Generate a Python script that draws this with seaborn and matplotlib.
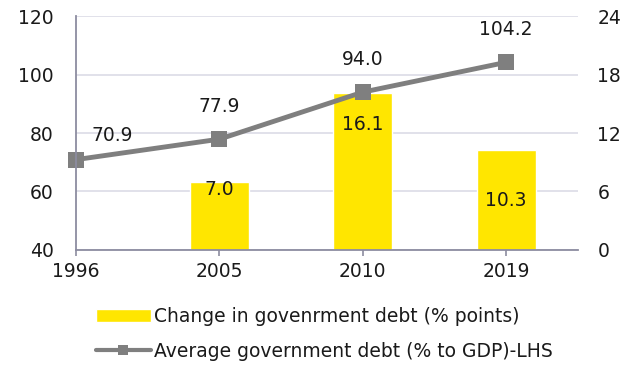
import matplotlib
matplotlib.use("Agg")
import matplotlib.pyplot as plt
import seaborn as sns
import pandas as pd
import numpy as np

# Data
years = ["1996", "2005", "2010", "2019"]
avg_debt = [70.9, 77.9, 94.0, 104.2]          # % of GDP, left axis
debt_change = [np.nan, 7.0, 16.1, 10.3]        # % points, right axis

bar_label = "Change in govenrment debt (% points)"
line_label = "Average government debt (% to GDP)-LHS"

left_ticks = [40, 60, 80, 100, 120]
right_ticks = [0, 6, 12, 18, 24]

YELLOW = "#FFE600"
GREY = "#7F7F7F"
AXIS = "#8C8CA0"
GRID = "#DCDCE6"
TEXT = "#1A1A1A"

sns.set_theme(style="white")
plt.rcParams["font.family"] = ["DejaVu Sans"]
FS = 13.5

df = pd.DataFrame({"year": years, "debt": avg_debt, "change": debt_change})
df["pos"] = np.arange(len(years))

fig = plt.figure(figsize=(6.33, 3.67), dpi=100)
ax = fig.add_axes([0.120, 0.319, 0.793, 0.637])
ax2 = ax.twinx()

# Bars on the right-hand scale
bars = df.dropna(subset=["change"])
sns.barplot(data=bars, x="pos", y="change", ax=ax2, color=YELLOW,
            native_scale=True, width=0.41, saturation=1, label=bar_label)
ax2.set_ylim(0, 24)
ax2.set_yticks(right_ticks)
ax2.yaxis.grid(True, color=GRID, linewidth=1.2)
ax2.set_axisbelow(True)

# Line on the left-hand scale
sns.lineplot(data=df, x="pos", y="debt", ax=ax, color=GREY, linewidth=3.5,
             marker="s", markersize=12, markeredgewidth=0, label=line_label,
             clip_on=False)
ax.set_ylim(40, 120)
ax.set_yticks(left_ticks)
ax.set_xlim(0, 3.5)
ax.set_xticks(df["pos"])
ax.set_xticklabels(years)
ax.set_xlabel("")
ax.set_ylabel("")
ax2.set_ylabel("")
ax2.set_xlabel("")

ax.set_zorder(ax2.get_zorder() + 1)
ax.patch.set_visible(False)

for a in (ax, ax2):
    for s in a.spines.values():
        s.set_visible(False)
    a.tick_params(axis="y", length=0, labelsize=FS, labelcolor=TEXT)
ax.spines["left"].set_visible(True)
ax.spines["bottom"].set_visible(True)
ax.spines["left"].set_color(AXIS)
ax.spines["bottom"].set_color(AXIS)
ax.spines["left"].set_linewidth(1.3)
ax.spines["bottom"].set_linewidth(1.3)
ax.tick_params(axis="y", pad=16)
ax2.tick_params(axis="y", pad=14)
ax.tick_params(axis="x", length=4, width=1.2, color=AXIS, direction="out",
               labelsize=FS, labelcolor=TEXT, pad=5, bottom=True)
ax2.tick_params(axis="x", bottom=False, labelbottom=False)

# Value labels for the line
line_offsets = [(36, 24), (0, 33), (0, 33), (0, 33)]
for x, v, (dx, dy) in zip(df["pos"], avg_debt, line_offsets):
    ax.annotate(f"{v:.1f}", (x, v), xytext=(dx, dy), textcoords="offset pixels",
                ha="center", va="center", fontsize=FS, color=TEXT)

# Value labels inside the bars
bar_offsets = [None, -8, -31, -51]
for x, v, dy in zip(df["pos"], debt_change, bar_offsets):
    if np.isnan(v):
        continue
    ax2.annotate(f"{v:.1f}", (x, v), xytext=(0, dy), textcoords="offset pixels",
                 ha="center", va="center", fontsize=FS, color=TEXT)

# Legend below the plot
h2, l2 = ax2.get_legend_handles_labels()
h1, l1 = ax.get_legend_handles_labels()
for a in (ax, ax2):
    if a.get_legend() is not None:
        a.get_legend().remove()
leg = fig.legend(h2 + h1, l2 + l1, loc="upper center", bbox_to_anchor=(0.513, 0.188),
                 frameon=False, fontsize=FS, handlelength=2.9, handletextpad=0.2,
                 labelspacing=0.82, borderpad=0, labelcolor=TEXT)
line_handle = leg.legend_handles[1]
line_handle.set_markersize(7)
line_handle.set_linewidth(3)

fig.savefig("out.png", dpi=100, facecolor="white")
